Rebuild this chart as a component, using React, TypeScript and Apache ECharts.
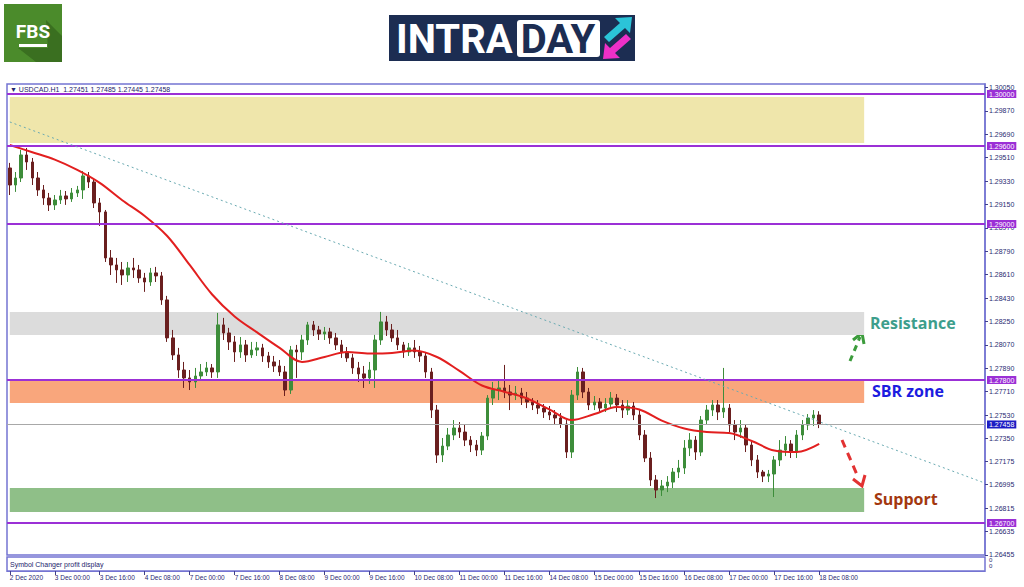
import React, { useEffect, useRef } from "react";
import * as echarts from "echarts";

// ---- candles (2-hour bars): [open, close, low, high] ----
const dec02 = [
  [1.29431, 1.293, 1.29223, 1.2947],
  [1.293, 1.29354, 1.29247, 1.294],
  [1.29354, 1.29531, 1.29323, 1.2957],
  [1.29531, 1.29477, 1.29416, 1.29585],
  [1.29477, 1.29354, 1.293, 1.29508],
  [1.29354, 1.29262, 1.29216, 1.294],
  [1.29262, 1.292, 1.29147, 1.293],
  [1.292, 1.29147, 1.291, 1.29239],
];
const dec03 = [
  [1.29147, 1.29185, 1.29108, 1.29223],
  [1.29185, 1.29216, 1.29154, 1.29262],
  [1.29216, 1.29193, 1.29147, 1.29254],
  [1.29193, 1.29239, 1.2917, 1.29277],
  [1.29239, 1.29262, 1.29208, 1.29293],
  [1.29262, 1.2937, 1.29193, 1.29408],
  [1.2937, 1.29323, 1.29277, 1.294],
  [1.29323, 1.29162, 1.29123, 1.29354],
  [1.29162, 1.29093, 1.28985, 1.292],
  [1.29093, 1.28739, 1.28708, 1.29108],
  [1.28739, 1.28685, 1.28608, 1.288],
  [1.28685, 1.28647, 1.28547, 1.28739],
];
const dec04 = [
  [1.28647, 1.28608, 1.28531, 1.28708],
  [1.28608, 1.28662, 1.28554, 1.28708],
  [1.28662, 1.28647, 1.28585, 1.28739],
  [1.28647, 1.28585, 1.28547, 1.28685],
  [1.28585, 1.28554, 1.28478, 1.28624],
  [1.28554, 1.28624, 1.28524, 1.28662],
  [1.28624, 1.28601, 1.28554, 1.2867],
  [1.28601, 1.28416, 1.28378, 1.28631],
  [1.28416, 1.28124, 1.28093, 1.28447],
  [1.28124, 1.27993, 1.27954, 1.28185],
  [1.27993, 1.27877, 1.27816, 1.28047],
  [1.27877, 1.27816, 1.27739, 1.27939],
];
const dec07 = [
  [1.27816, 1.27785, 1.27723, 1.27877],
  [1.27785, 1.27831, 1.27739, 1.27893],
  [1.27831, 1.27862, 1.278, 1.27923],
  [1.27862, 1.27893, 1.27831, 1.27939],
  [1.27893, 1.27862, 1.27816, 1.27923],
  [1.27862, 1.28224, 1.27816, 1.28316],
  [1.28224, 1.28162, 1.28108, 1.28278],
  [1.28162, 1.28093, 1.28031, 1.28201],
  [1.28093, 1.28016, 1.27939, 1.28139],
  [1.28016, 1.2807, 1.2797, 1.28131],
  [1.2807, 1.27993, 1.27939, 1.28108],
  [1.27993, 1.28031, 1.2797, 1.28093],
];
const dec08 = [
  [1.28031, 1.28047, 1.27985, 1.28093],
  [1.28047, 1.27985, 1.27939, 1.28078],
  [1.27985, 1.27939, 1.27893, 1.28016],
  [1.27939, 1.27908, 1.27862, 1.27985],
  [1.27908, 1.27862, 1.27831, 1.27954],
  [1.27862, 1.27723, 1.27677, 1.27908],
  [1.27723, 1.28031, 1.27693, 1.28062],
  [1.28031, 1.28016, 1.27816, 1.2807],
  [1.28016, 1.28108, 1.27954, 1.28147],
  [1.28108, 1.28224, 1.2807, 1.28247],
  [1.28224, 1.28185, 1.28139, 1.28254],
  [1.28185, 1.28154, 1.28108, 1.28216],
];
const dec09 = [
  [1.28154, 1.2817, 1.28108, 1.28208],
  [1.2817, 1.28124, 1.28078, 1.28201],
  [1.28124, 1.2807, 1.28031, 1.28162],
  [1.2807, 1.28016, 1.2797, 1.28108],
  [1.28016, 1.2797, 1.27939, 1.28054],
  [1.2797, 1.27893, 1.27847, 1.28001],
  [1.27893, 1.27847, 1.27785, 1.27939],
  [1.27847, 1.27816, 1.27739, 1.27908],
  [1.27816, 1.27877, 1.2777, 1.27939],
  [1.27877, 1.28108, 1.27739, 1.28147],
  [1.28108, 1.28247, 1.2807, 1.28324],
  [1.28247, 1.28185, 1.28139, 1.28293],
];
const dec10 = [
  [1.28185, 1.28124, 1.28093, 1.28231],
  [1.28124, 1.2807, 1.28031, 1.28185],
  [1.2807, 1.28016, 1.2797, 1.28093],
  [1.28016, 1.28047, 1.27985, 1.28085],
  [1.28047, 1.28016, 1.2797, 1.28108],
  [1.28016, 1.27985, 1.27939, 1.28062],
  [1.27985, 1.27862, 1.27816, 1.28016],
  [1.27862, 1.27569, 1.27508, 1.27893],
  [1.27569, 1.27223, 1.27162, 1.27608],
  [1.27223, 1.27292, 1.27169, 1.27354],
  [1.27292, 1.27377, 1.27261, 1.27431],
  [1.27377, 1.27431, 1.27338, 1.27492],
];
const dec11 = [
  [1.27431, 1.274, 1.27354, 1.27477],
  [1.274, 1.27338, 1.27292, 1.27454],
  [1.27338, 1.273, 1.27246, 1.27369],
  [1.273, 1.27261, 1.27215, 1.27338],
  [1.27261, 1.27369, 1.27223, 1.274],
  [1.27369, 1.27661, 1.27338, 1.27684],
  [1.27661, 1.27723, 1.27608, 1.27785],
  [1.27723, 1.27739, 1.27646, 1.278],
  [1.27739, 1.27708, 1.27661, 1.27916],
  [1.27708, 1.27684, 1.27569, 1.27762],
  [1.27684, 1.277, 1.27646, 1.27754],
  [1.277, 1.27661, 1.27608, 1.27739],
];
const dec14 = [
  [1.27661, 1.27631, 1.27584, 1.27708],
  [1.27631, 1.27608, 1.27569, 1.27661],
  [1.27608, 1.27584, 1.27538, 1.27646],
  [1.27584, 1.27554, 1.27508, 1.27615],
  [1.27554, 1.27531, 1.27492, 1.276],
  [1.27531, 1.27508, 1.27461, 1.27569],
  [1.27508, 1.27461, 1.27431, 1.27546],
  [1.27461, 1.27246, 1.272, 1.27492],
  [1.27246, 1.27684, 1.272, 1.27723],
  [1.27684, 1.27862, 1.27646, 1.279],
  [1.27862, 1.27708, 1.27661, 1.27893],
  [1.27708, 1.27608, 1.27569, 1.27739],
];
const dec15 = [
  [1.27608, 1.27631, 1.27569, 1.27677],
  [1.27631, 1.27584, 1.27546, 1.27661],
  [1.27584, 1.27615, 1.27554, 1.27661],
  [1.27615, 1.27661, 1.27584, 1.27708],
  [1.27661, 1.27608, 1.27554, 1.27692],
  [1.27608, 1.27569, 1.27508, 1.27646],
  [1.27569, 1.276, 1.27531, 1.27646],
  [1.276, 1.27531, 1.27492, 1.27631],
  [1.27531, 1.27377, 1.27338, 1.27569],
  [1.27377, 1.272, 1.27169, 1.27415],
  [1.272, 1.27031, 1.26985, 1.27246],
  [1.27031, 1.26954, 1.26892, 1.27069],
];
const dec16 = [
  [1.26954, 1.26985, 1.26908, 1.27031],
  [1.26985, 1.27015, 1.26938, 1.27061],
  [1.27015, 1.27092, 1.26969, 1.27123],
  [1.27092, 1.27123, 1.27046, 1.27185],
  [1.27123, 1.27277, 1.27077, 1.27338],
  [1.27277, 1.27338, 1.27215, 1.27392],
  [1.27338, 1.27246, 1.27185, 1.27369],
  [1.27246, 1.27492, 1.27215, 1.27523],
  [1.27492, 1.27569, 1.27454, 1.27608],
  [1.27569, 1.27608, 1.27523, 1.27646],
  [1.27608, 1.27554, 1.27492, 1.27646],
  [1.27554, 1.27584, 1.27508, 1.27893],
];
const dec17 = [
  [1.27584, 1.27454, 1.274, 1.27615],
  [1.27454, 1.274, 1.27338, 1.27492],
  [1.274, 1.27431, 1.27354, 1.27492],
  [1.27431, 1.273, 1.27246, 1.27454],
  [1.273, 1.27185, 1.27138, 1.27338],
  [1.27185, 1.27092, 1.27046, 1.27223],
  [1.27092, 1.27061, 1.27015, 1.27108],
  [1.27061, 1.27077, 1.27015, 1.27108],
  [1.27077, 1.27185, 1.269, 1.27215],
  [1.27185, 1.27261, 1.27138, 1.27338],
  [1.27261, 1.27308, 1.27215, 1.27369],
  [1.27308, 1.27246, 1.272, 1.27338],
];
const dec18 = [
  [1.27246, 1.27377, 1.272, 1.27415],
  [1.27377, 1.27454, 1.27338, 1.27492],
  [1.27454, 1.27508, 1.27415, 1.27538],
  [1.27508, 1.27531, 1.27446, 1.27569],
  [1.27531, 1.27458, 1.2743, 1.2756],
];

// ---- moving average (read every 4 bars) ----
const maIdx = [0, 4, 8, 12, 16, 20, 24, 28, 32, 36, 40, 44, 48, 52, 56, 60, 64, 68, 72, 76, 80, 84, 88, 92, 96, 100, 104, 108, 112, 116, 120, 124, 128, 132, 136, 140, 144];
const maVals = [1.29608, 1.29552, 1.29495, 1.29416, 1.29316, 1.29183, 1.29062, 1.28908, 1.28685, 1.28458, 1.28289, 1.28166, 1.28047, 1.27939, 1.27977, 1.28016, 1.28004, 1.28008, 1.28027, 1.27977, 1.2787, 1.27758, 1.2771, 1.27658, 1.27574, 1.27492, 1.27538, 1.27592, 1.27573, 1.27488, 1.27427, 1.274, 1.27392, 1.27331, 1.27258, 1.27246, 1.27308];

// ---- levels, zones, trend ----
const levels = [1.3, 1.296, 1.29, 1.278, 1.267];
const bidPrice = 1.27458;
const yellowZone = [1.29977, 1.29623];
const grayZone = [1.28324, 1.28147];
const orangeZone = [1.27792, 1.27623];
const greenZone = [1.26969, 1.26785];
const trendEnds = [1.29785, 1.27015];

// ---- axes ----
const yTicks = [1.3005, 1.2987, 1.2969, 1.2951, 1.2933, 1.2915, 1.2897, 1.2879, 1.2861, 1.2843, 1.2825, 1.2807, 1.2789, 1.2771, 1.2753, 1.2735, 1.27175, 1.26995, 1.26815, 1.26635, 1.26455];
const tickLabels = ["2 Dec 2020", "3 Dec 00:00", "3 Dec 16:00", "4 Dec 08:00", "7 Dec 00:00", "7 Dec 16:00", "8 Dec 08:00", "9 Dec 00:00", "9 Dec 16:00", "10 Dec 08:00", "11 Dec 00:00", "11 Dec 16:00", "14 Dec 08:00", "15 Dec 00:00", "15 Dec 16:00", "16 Dec 08:00", "17 Dec 00:00", "17 Dec 16:00", "18 Dec 08:00"];
const SLOTS = 174;

export default function App() {
  const ref = useRef<HTMLDivElement>(null);
  useEffect(() => {
    document.body.style.margin = "0";
    if (!ref.current) return;
    const chart = echarts.init(ref.current, null, { renderer: "svg" });
    const candles = [...dec02, ...dec03, ...dec04, ...dec07, ...dec08, ...dec09, ...dec10, ...dec11, ...dec14, ...dec15, ...dec16, ...dec17, ...dec18];
    const cats = Array.from({ length: SLOTS }, (_, i) => "b" + i);
    const showIdx = (i: number) => i % 8 === 0 && i / 8 < tickLabels.length;
    const frame = "#7474d2";
    const zoneEnd = 152;
    const zone = (z: number[], color: string) => [
      { xAxis: 0, yAxis: z[0], itemStyle: { color } },
      { xAxis: zoneEnd, yAxis: z[1] },
    ];
    const lvlLabel = (bg: string) => ({
      show: true,
      position: "end",
      distance: 2,
      formatter: (p: any) => Number(p.value).toFixed(5),
      backgroundColor: bg,
      color: "#ffffff",
      fontSize: 7,
      fontFamily: "Liberation Sans, Arial, sans-serif",
      padding: [1, 2, 0, 2],
    });
    const option: any = {
      animation: false,
      textStyle: { fontFamily: "Liberation Sans, Arial, sans-serif" },
      grid: [
        { left: 7, top: 84, width: 978, height: 471, show: true, borderColor: frame, borderWidth: 1.5, backgroundColor: "#ffffff" },
        { left: 7, top: 557, width: 978, height: 14, show: true, borderColor: frame, borderWidth: 1.5, backgroundColor: "#ffffff" },
      ],
      xAxis: [
        { type: "category", gridIndex: 0, data: cats, boundaryGap: true, axisLabel: { show: false }, axisTick: { show: false }, axisLine: { show: false }, splitLine: { show: false } },
        {
          type: "category", gridIndex: 1, data: cats, boundaryGap: true, position: "bottom",
          axisLine: { show: true, lineStyle: { color: frame } },
          axisTick: { show: true, interval: (i: number) => showIdx(i), alignWithLabel: true, length: 4, lineStyle: { color: "#40408a" } },
          axisLabel: { show: true, interval: (i: number) => showIdx(i), formatter: (_v: string, i: number) => tickLabels[i / 8] ?? "", align: "left", fontSize: 6.5, color: "#2a2a72", margin: 3 },
          splitLine: { show: false },
        },
      ],
      yAxis: [
        {
          type: "value", gridIndex: 0, position: "right", min: 1.26454, max: 1.30077, scale: true,
          splitLine: { show: false },
          axisLine: { show: true, lineStyle: { color: frame, width: 1.5 } },
          axisTick: { show: true, customValues: yTicks, length: 3, lineStyle: { color: "#40408a" } },
          axisLabel: { show: true, customValues: yTicks, formatter: (v: number) => v.toFixed(5), fontSize: 7, color: "#2a2a72", margin: 4 },
        },
        { type: "value", gridIndex: 1, min: 0, max: 1, show: false },
      ],
      series: [
        {
          type: "candlestick",
          xAxisIndex: 0,
          yAxisIndex: 0,
          data: candles,
          barWidth: 3,
          clip: false,
          itemStyle: { color: "#3d8d3a", color0: "#6a1f1f", borderColor: "#3d8d3a", borderColor0: "#6a1f1f", borderWidth: 1 },
          markArea: {
            silent: true,
            data: [
              zone(yellowZone, "#efe6ab"),
              zone(grayZone, "#dcdcdc"),
              zone(orangeZone, "#f9a67c"),
              zone(greenZone, "#8fbf88"),
            ],
          },
          markLine: {
            silent: true,
            precision: 5,
            symbol: ["none", "none"],
            data: [
              ...levels.map((v) => ({ yAxis: v, lineStyle: { color: "#9b30d6", width: 2, type: "solid" }, label: lvlLabel("#9b30d6") })),
              { yAxis: bidPrice, lineStyle: { color: "#a8a8a8", width: 1, type: "solid" }, label: lvlLabel("#1c1cc4") },
              [
                { coord: [0, trendEnds[0]], lineStyle: { color: "#6aaab2", width: 1, type: [2, 3] }, label: { show: false } },
                { coord: [SLOTS - 1, trendEnds[1]] },
              ],
            ],
          },
        },
        {
          type: "line",
          xAxisIndex: 0,
          yAxisIndex: 0,
          data: maIdx.map((i, k) => [i, maVals[k]]),
          smooth: 0.35,
          showSymbol: false,
          symbol: "none",
          lineStyle: { color: "#e21f1f", width: 2 },
          z: 4,
        },
      ],
      graphic: [
        // FBS logo
        { type: "rect", shape: { x: 4, y: 4, width: 58, height: 58 }, style: { fill: "#4b8b2b" } },
        { type: "polygon", shape: { points: [[46, 20], [62, 36], [62, 62], [36, 62], [18, 48], [48, 48]] }, style: { fill: "#3a6f20" } },
        { type: "text", style: { text: "FBS", x: 33, y: 31, fill: "#ffffff", fontSize: 19, fontWeight: "bold", fontFamily: "Roboto, sans-serif", align: "center", verticalAlign: "middle" } },
        { type: "rect", shape: { x: 19, y: 44, width: 28, height: 3 }, style: { fill: "#ffffff" } },
        // INTRADAY logo
        { type: "rect", shape: { x: 389, y: 15, width: 246, height: 46 }, style: { fill: "#1c2d52" } },
        { type: "text", style: { text: "INTRA", x: 396, y: 39, fill: "#ffffff", fontSize: 40, fontWeight: "bold", fontFamily: "Roboto, sans-serif", verticalAlign: "middle" } },
        { type: "rect", shape: { x: 517, y: 20, width: 83, height: 37, r: 3 }, style: { fill: "#ffffff" } },
        { type: "text", style: { text: "DAY", x: 558, y: 39, fill: "#1c2d52", fontSize: 40, fontWeight: "bold", fontFamily: "Roboto, sans-serif", align: "center", verticalAlign: "middle" } },
        { type: "polygon", shape: { points: [[632, 17], [630, 33], [625, 28], [609, 42], [604, 37], [620, 23], [615, 18]] }, style: { fill: "#2bc4d8" } },
        { type: "polygon", shape: { points: [[603, 59], [605, 43], [610, 48], [626, 34], [631, 39], [615, 53], [620, 58]] }, style: { fill: "#ee30c8" } },
        // header texts
        { type: "text", style: { text: "▼ USDCAD.H1  1.27451 1.27485 1.27445 1.27458", x: 10, y: 89, fill: "#23236b", fontSize: 7, fontFamily: "Liberation Sans, Arial, sans-serif", verticalAlign: "middle" } },
        { type: "text", style: { text: "Symbol Changer profit display", x: 10, y: 564, fill: "#23236b", fontSize: 7, fontFamily: "Liberation Sans, Arial, sans-serif", verticalAlign: "middle" } },
        { type: "text", style: { text: "0", x: 989, y: 560, fill: "#2a2a72", fontSize: 6, verticalAlign: "middle" } },
        { type: "text", style: { text: "0", x: 989, y: 566, fill: "#2a2a72", fontSize: 6, verticalAlign: "middle" } },
        // annotations
        { type: "text", style: { text: "Resistance", x: 870, y: 323, fill: "#3d9e8c", fontSize: 16, fontWeight: "bold", fontFamily: "Open Sans, sans-serif", verticalAlign: "middle" } },
        { type: "text", style: { text: "SBR zone", x: 872, y: 391, fill: "#1c1ce0", fontSize: 16, fontWeight: "bold", fontFamily: "Open Sans, sans-serif", verticalAlign: "middle" } },
        { type: "text", style: { text: "Support", x: 874, y: 499, fill: "#a3380f", fontSize: 16, fontWeight: "bold", fontFamily: "Open Sans, sans-serif", verticalAlign: "middle" } },
        // arrows
        { type: "polyline", shape: { points: [[850, 361], [860, 337]] }, style: { stroke: "#3c9c3c", lineWidth: 3, lineDash: [6, 5], fill: null } },
        { type: "polyline", shape: { points: [[853, 340], [862, 333], [864, 344]] }, style: { stroke: "#3c9c3c", lineWidth: 3, fill: null } },
        { type: "polyline", shape: { points: [[836, 397], [840, 390]] }, style: { stroke: "#3c9c3c", lineWidth: 3, fill: null } },
        { type: "polyline", shape: { points: [[836, 388], [843, 383], [845, 391]] }, style: { stroke: "#3c9c3c", lineWidth: 3, fill: null } },
        { type: "polyline", shape: { points: [[842, 440], [858, 477]] }, style: { stroke: "#e23232", lineWidth: 3, lineDash: [8, 6], fill: null } },
        { type: "polyline", shape: { points: [[853, 479], [862, 486], [865, 475]] }, style: { stroke: "#e23232", lineWidth: 3, fill: null } },
      ],
    };
    chart.setOption(option);
    return () => chart.dispose();
  }, []);
  return <div ref={ref} style={{ width: 1024, height: 587 }} />;
}
